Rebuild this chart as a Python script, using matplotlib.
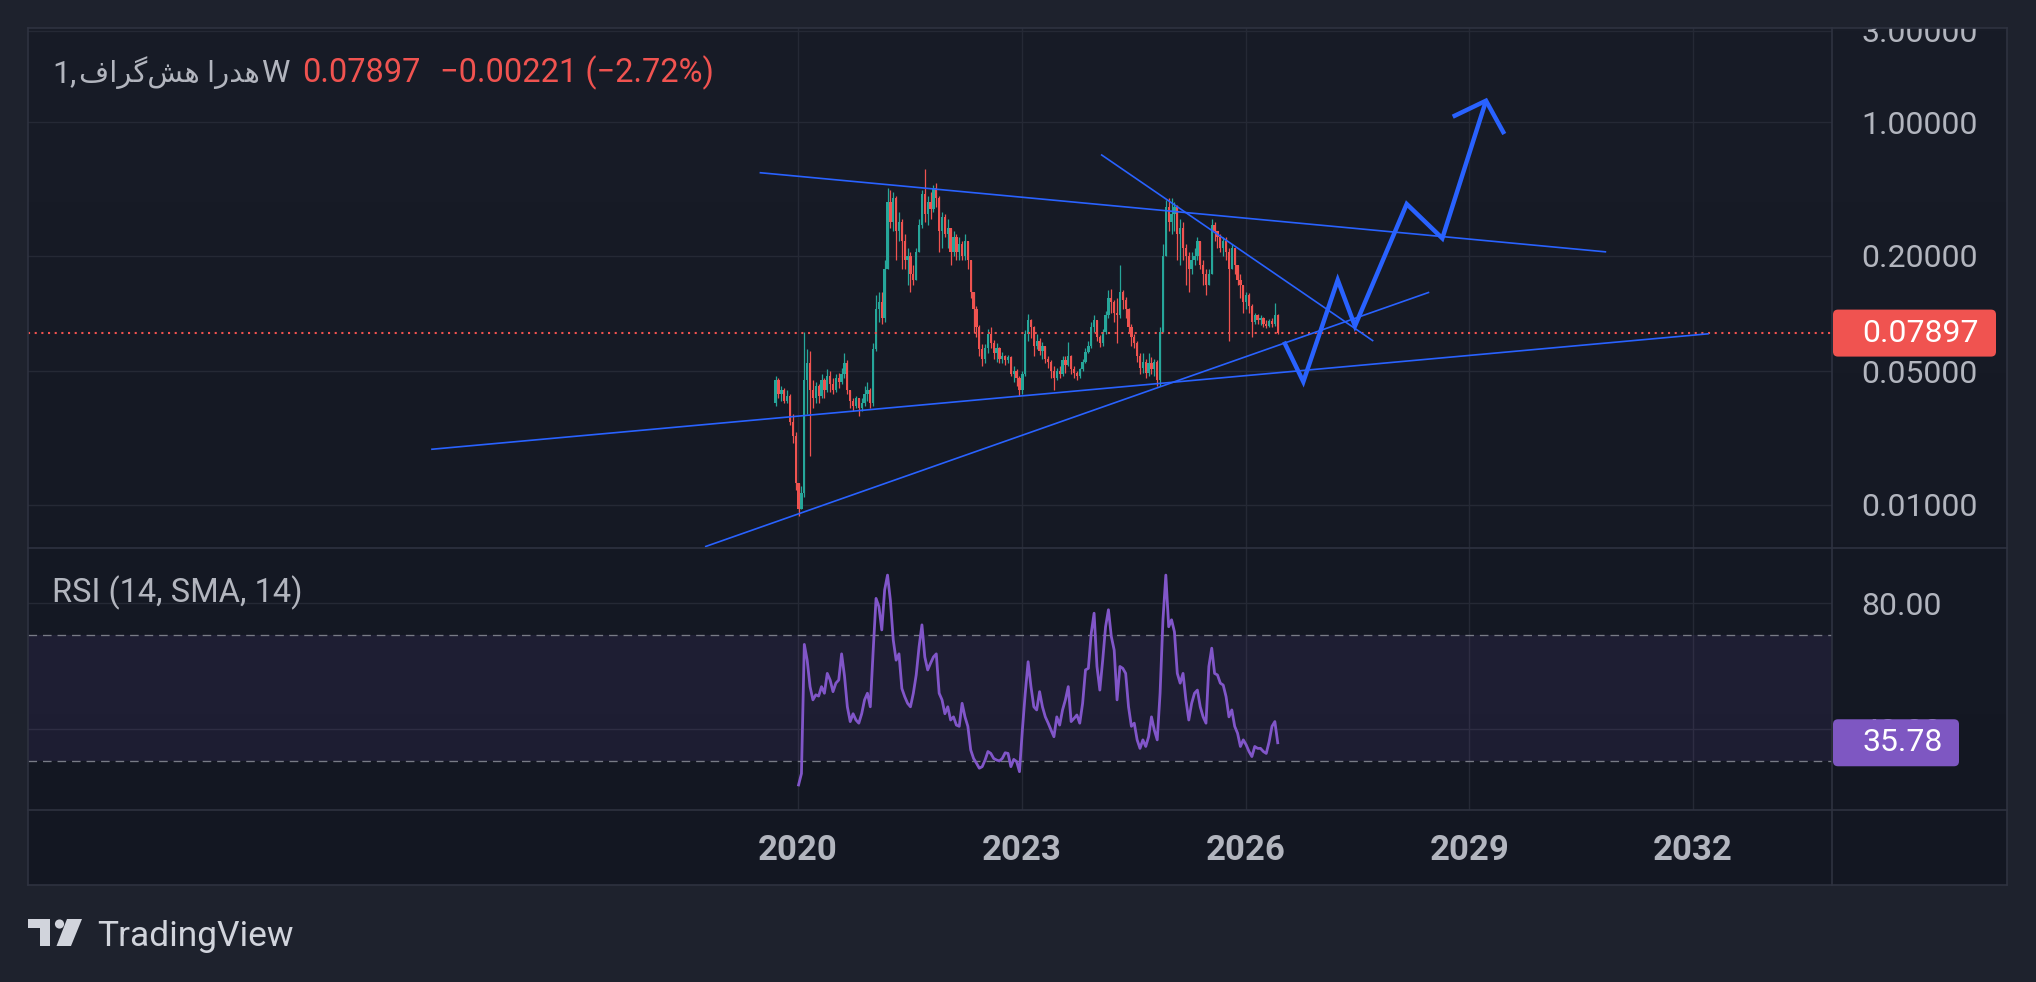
import numpy as np
import matplotlib
matplotlib.use("Agg")
import matplotlib.pyplot as plt
from matplotlib.patches import FancyBboxPatch, Rectangle, Circle, Polygon
from matplotlib.lines import Line2D
from matplotlib.colors import LinearSegmentedColormap
from matplotlib.ticker import NullLocator

# ---- data ----
start_year = 2019.70          # first bar
bar_step = 2 / 52             # two-week bars
first_open = 0.034

closes = [
    0.045, 0.038, 0.040, 0.035, 0.037, 0.027, 0.023, 0.013, 0.0095, 0.0115,
    0.045, 0.055, 0.040, 0.036, 0.042, 0.037, 0.045, 0.040, 0.047, 0.043,
    0.040, 0.046, 0.044, 0.048, 0.055, 0.040, 0.035, 0.033, 0.036, 0.032,
    0.034, 0.038, 0.040, 0.034, 0.065, 0.105, 0.115, 0.095, 0.170, 0.380,
    0.300, 0.400, 0.270, 0.300, 0.240, 0.190, 0.200, 0.160, 0.150, 0.210,
    0.290, 0.420, 0.330, 0.380, 0.350, 0.450, 0.400, 0.270, 0.320, 0.260,
    0.280, 0.210, 0.250, 0.210, 0.230, 0.200, 0.240, 0.190, 0.130, 0.105,
    0.085, 0.065, 0.058, 0.066, 0.078, 0.070, 0.062, 0.066, 0.058, 0.060,
    0.057, 0.059, 0.048, 0.050, 0.046, 0.040, 0.048, 0.078, 0.092, 0.085,
    0.068, 0.072, 0.064, 0.068, 0.058, 0.056, 0.050, 0.046, 0.050, 0.048,
    0.057, 0.054, 0.060, 0.051, 0.049, 0.047, 0.051, 0.056, 0.063, 0.068,
    0.085, 0.092, 0.075, 0.070, 0.080, 0.098, 0.120, 0.115, 0.100, 0.098,
    0.130, 0.118, 0.105, 0.085, 0.075, 0.070, 0.060, 0.052, 0.056, 0.049,
    0.055, 0.051, 0.056, 0.045, 0.080, 0.200, 0.360, 0.300, 0.330, 0.360,
    0.260, 0.280, 0.220, 0.200, 0.170, 0.190, 0.200, 0.240, 0.180, 0.160,
    0.140, 0.160, 0.290, 0.270, 0.250, 0.220, 0.240, 0.210, 0.170, 0.220,
    0.180, 0.150, 0.140, 0.115, 0.125, 0.110, 0.090, 0.098, 0.092, 0.095,
    0.088, 0.086, 0.091, 0.088, 0.098, 0.07897,
]
highs = [
    0.047, 0.046, 0.042, 0.041, 0.040, 0.038, 0.030, 0.024, 0.013, 0.0125,
    0.080, 0.065, 0.064, 0.045, 0.044, 0.043, 0.048, 0.046, 0.051, 0.050,
    0.046, 0.048, 0.049, 0.052, 0.062, 0.057, 0.040, 0.036, 0.037, 0.036,
    0.036, 0.042, 0.044, 0.041, 0.070, 0.125, 0.130, 0.130, 0.190, 0.450,
    0.440, 0.430, 0.410, 0.340, 0.310, 0.260, 0.220, 0.210, 0.180, 0.220,
    0.310, 0.440, 0.570, 0.410, 0.430, 0.470, 0.480, 0.410, 0.340, 0.330,
    0.310, 0.280, 0.270, 0.260, 0.250, 0.240, 0.260, 0.240, 0.190, 0.130,
    0.110, 0.087, 0.069, 0.069, 0.083, 0.085, 0.073, 0.070, 0.067, 0.063,
    0.061, 0.061, 0.060, 0.053, 0.051, 0.047, 0.050, 0.082, 0.099, 0.094,
    0.086, 0.078, 0.074, 0.071, 0.068, 0.060, 0.057, 0.053, 0.052, 0.053,
    0.060, 0.060, 0.071, 0.061, 0.053, 0.050, 0.052, 0.058, 0.066, 0.072,
    0.090, 0.098, 0.092, 0.077, 0.083, 0.103, 0.133, 0.135, 0.118, 0.120,
    0.180, 0.132, 0.122, 0.107, 0.088, 0.078, 0.072, 0.062, 0.062, 0.058,
    0.062, 0.059, 0.058, 0.057, 0.085, 0.230, 0.390, 0.400, 0.400, 0.380,
    0.370, 0.310, 0.300, 0.230, 0.210, 0.210, 0.220, 0.250, 0.240, 0.190,
    0.170, 0.170, 0.310, 0.300, 0.270, 0.260, 0.250, 0.250, 0.220, 0.230,
    0.220, 0.180, 0.160, 0.140, 0.130, 0.128, 0.112, 0.101, 0.099, 0.098,
    0.096, 0.092, 0.094, 0.095, 0.113, 0.099,
]
lows = [
    0.033, 0.036, 0.035, 0.034, 0.034, 0.026, 0.021, 0.012, 0.0088, 0.0095,
    0.011, 0.030, 0.018, 0.032, 0.034, 0.034, 0.036, 0.036, 0.039, 0.039,
    0.038, 0.039, 0.041, 0.043, 0.046, 0.038, 0.032, 0.031, 0.032, 0.029,
    0.031, 0.033, 0.035, 0.032, 0.033, 0.064, 0.090, 0.088, 0.090, 0.170,
    0.280, 0.270, 0.190, 0.240, 0.170, 0.170, 0.140, 0.130, 0.140, 0.150,
    0.210, 0.280, 0.300, 0.290, 0.310, 0.340, 0.360, 0.210, 0.220, 0.250,
    0.220, 0.180, 0.200, 0.190, 0.190, 0.190, 0.190, 0.170, 0.120, 0.079,
    0.075, 0.060, 0.053, 0.055, 0.062, 0.066, 0.058, 0.056, 0.055, 0.055,
    0.054, 0.055, 0.047, 0.044, 0.042, 0.037, 0.038, 0.047, 0.072, 0.074,
    0.060, 0.065, 0.061, 0.058, 0.055, 0.052, 0.046, 0.040, 0.045, 0.046,
    0.047, 0.049, 0.053, 0.048, 0.046, 0.045, 0.046, 0.050, 0.055, 0.062,
    0.066, 0.080, 0.072, 0.067, 0.068, 0.078, 0.095, 0.100, 0.090, 0.070,
    0.095, 0.105, 0.095, 0.080, 0.068, 0.066, 0.056, 0.048, 0.049, 0.046,
    0.047, 0.048, 0.047, 0.042, 0.042, 0.080, 0.200, 0.270, 0.260, 0.270,
    0.190, 0.180, 0.190, 0.140, 0.130, 0.160, 0.180, 0.190, 0.170, 0.140,
    0.125, 0.140, 0.160, 0.240, 0.220, 0.210, 0.200, 0.190, 0.072, 0.170,
    0.160, 0.140, 0.120, 0.100, 0.105, 0.100, 0.075, 0.088, 0.088, 0.087,
    0.085, 0.084, 0.085, 0.085, 0.086, 0.078,
]

rsi_first_bar = 8
rsi = [
    22.4, 26.0, 67.0, 62.0, 53.6, 49.4, 51.0, 50.6, 53.6, 51.5,
    57.8, 55.7, 52.0, 54.7, 55.7, 64.0, 57.0, 47.2, 42.5, 45.0,
    43.0, 42.0, 45.0, 49.4, 51.5, 47.2, 65.0, 81.6, 79.0, 71.6,
    84.3, 89.0, 81.0, 68.4, 62.0, 64.0, 53.0, 50.4, 48.3, 47.2,
    51.5, 57.3, 66.3, 73.2, 63.0, 58.9, 61.0, 63.0, 64.0, 51.5,
    49.4, 45.0, 47.2, 43.0, 44.0, 41.4, 41.0, 48.3, 44.0, 41.0,
    33.5, 30.8, 29.3, 27.7, 28.2, 30.3, 33.0, 32.4, 30.8, 30.3,
    30.0, 30.8, 32.6, 32.4, 28.2, 30.5, 29.8, 26.6, 39.8, 51.5,
    61.5, 53.6, 47.2, 46.2, 52.0, 47.2, 44.0, 42.0, 39.8, 37.7,
    44.0, 41.4, 46.2, 49.4, 53.6, 42.5, 43.5, 44.6, 42.0, 48.3,
    58.9, 59.4, 70.5, 76.9, 60.0, 52.5, 62.0, 72.6, 78.0, 69.5,
    65.2, 49.4, 60.0, 59.4, 57.8, 47.2, 41.0, 42.0, 36.7, 34.0,
    36.7, 34.6, 37.7, 44.0, 39.8, 36.7, 51.5, 74.8, 89.0, 72.6,
    74.8, 71.0, 57.8, 54.7, 57.8, 49.4, 43.0, 48.3, 51.5, 52.5,
    47.2, 44.0, 42.0, 60.0, 65.8, 57.8, 57.3, 54.7, 54.1, 50.4,
    44.0, 46.2, 41.0, 38.8, 34.6, 36.7, 35.1, 33.0, 31.4, 34.6,
    34.0, 34.0, 33.0, 32.4, 36.1, 41.0, 42.5, 35.78,
]

# drawn trend lines (year, price)
upper_x, upper_y = [2019.485, 2030.834], [0.544, 0.2097]
base_x, base_y = [2015.082, 2032.209], [0.01951, 0.07834]
steep_x, steep_y = [2018.753, 2028.462], [0.006045, 0.1291]
fall_x, fall_y = [2024.062, 2027.712], [0.6767, 0.07178]
path_x = [2026.515, 2026.774, 2027.235, 2027.466, 2028.160, 2028.637, 2029.223]
path_y = [0.0712, 0.0440, 0.1496, 0.0860, 0.3731, 0.2470, 1.2927]
head_x = [2028.777, 2029.223, 2029.468]
head_y = [1.0665, 1.2927, 0.866]

price_ticks = [3.0, 1.0, 0.2, 0.05, 0.01]
price_labels = ["3.00000", "1.00000", "0.20000", "0.05000", "0.01000"]
rsi_ticks = [80, 40]
rsi_labels = ["80.00", "40.00"]
year_ticks = [2020, 2023, 2026, 2029, 2032]

# ---- style ----
W, H = 2036, 982
OUTER = "#1e222d"
GRID = "#252935"
BORDER = "#2e3240"
TXT = "#b2b5be"
UP = "#26a69a"
DOWN = "#ef5350"
RED = "#f05350"
BLUE = "#2962ff"
PURPLE = "#7e57c2"

plt.rcParams["font.family"] = ["Roboto", "DejaVu Sans"]


def frac(x0, y0, x1, y1):
    """pixel box (top-left origin) -> figure fraction rect"""
    return [x0 / W, 1 - y1 / H, (x1 - x0) / W, (y1 - y0) / H]


def inch(x, y):
    """pixel (top-left origin) -> inches for dpi_scale_trans"""
    return (x / 100, (H - y) / 100)


fig = plt.figure(figsize=(W / 100, H / 100), dpi=100, facecolor=OUTER)

# gradient chart background
bg = fig.add_axes(frac(28, 28, 2007, 885), zorder=-5)
cmap = LinearSegmentedColormap.from_list("bg", ["#181c27", "#131722"])
bg.imshow(np.linspace(0, 1, 256).reshape(-1, 1), aspect="auto", cmap=cmap,
          extent=[0, 1, 0, 1])
bg.axis("off")

ax1 = fig.add_axes(frac(28, 28, 1832, 548))
ax2 = fig.add_axes(frac(28, 548, 1832, 810))
for ax in (ax1, ax2):
    ax.set_facecolor("none")
    for s in ax.spines.values():
        s.set_visible(False)
    ax.set_xlim(2009.678, 2033.861)
    ax.set_axisbelow(True)

# ---- price pane ----
ax1.set_yscale("log")
ax1.set_ylim(0.005953, 3.10)
ax1.yaxis.set_minor_locator(NullLocator())
ax1.set_yticks(price_ticks, price_labels)
ax1.set_xticks(year_ticks)
ax1.yaxis.tick_right()
ax1.tick_params(axis="y", length=0, pad=21, labelsize=23, labelcolor=TXT)
ax1.tick_params(axis="x", length=0, labelbottom=False)
ax1.grid(True, color=GRID, lw=1.0)

dates = start_year + np.arange(len(closes)) * bar_step
closes_a = np.array(closes)
opens_a = np.array([first_open] + closes[:-1])
colors = np.where(closes_a >= opens_a, UP, DOWN)
body_lo = np.minimum(opens_a, closes_a)
body_hi = np.maximum(opens_a, closes_a)
ax1.vlines(dates, lows, highs, colors=colors, lw=0.9, zorder=2)
ax1.bar(dates, body_hi - body_lo, bottom=body_lo, width=bar_step * 0.8,
        color=colors, linewidth=0, zorder=2)

last_price = closes[-1]
ax1.axhline(last_price, color=RED, lw=1.5, ls=(0, (1, 2.2)), zorder=3)

for xs, ys in [(upper_x, upper_y), (base_x, base_y), (steep_x, steep_y), (fall_x, fall_y)]:
    ax1.plot(xs, ys, color=BLUE, lw=1.2, zorder=4, solid_capstyle="butt")
ax1.plot(path_x, path_y, color=BLUE, lw=3.2, zorder=5,
         solid_joinstyle="miter", solid_capstyle="butt")
ax1.plot(head_x, head_y, color=BLUE, lw=3.2, zorder=5,
         solid_joinstyle="miter", solid_capstyle="butt")

# ---- RSI pane ----
ax2.set_ylim(14.44, 97.6)
ax2.set_yticks(rsi_ticks, rsi_labels)
ax2.set_xticks(year_ticks, [str(y) for y in year_ticks])
ax2.yaxis.tick_right()
ax2.tick_params(axis="y", length=0, pad=21, labelsize=23, labelcolor=TXT)
ax2.tick_params(axis="x", length=0, pad=17, labelsize=25, labelcolor=TXT)
for lab in ax2.get_xticklabels():
    lab.set_fontweight("bold")
ax2.grid(True, color=GRID, lw=1.0)
ax2.axhspan(30, 70, color=PURPLE, alpha=0.10, lw=0, zorder=1)
for lvl in (70, 30):
    ax2.axhline(lvl, color="#787b86", lw=0.95, ls=(0, (6.5, 4.5)), zorder=2)
rsi_dates = dates[rsi_first_bar:rsi_first_bar + len(rsi)]
ax2.plot(rsi_dates, rsi, color="#8156c9", lw=2.0, zorder=3)

# ---- frame lines ----
fig.add_artist(Rectangle((0, 1 - 28 / H), 1, 28 / H, transform=fig.transFigure,
                         facecolor=OUTER, edgecolor="none", zorder=6))
frame = [((28, 28), (2007, 28)), ((28, 885), (2007, 885)), ((28, 28), (28, 885)),
         ((2007, 28), (2007, 885)), ((1832, 28), (1832, 885)),
         ((28, 548), (2007, 548)), ((28, 810), (2007, 810))]
for (xa, ya), (xb, yb) in frame:
    fig.add_artist(Line2D([xa / W, xb / W], [1 - ya / H, 1 - yb / H],
                          transform=fig.transFigure, color=BORDER, lw=1.2, zorder=7))

# ---- price / rsi value boxes ----
fig.canvas.draw()
renderer = fig.canvas.get_renderer()
yp = ax1.transData.transform((2020, last_price))[1] / fig.dpi
yr = ax2.transData.transform((2020, rsi[-1]))[1] / fig.dpi
fig.add_artist(FancyBboxPatch((1833 / 100, yp - 0.235), 1.63, 0.47,
                              boxstyle="round,pad=0,rounding_size=0.05",
                              transform=fig.dpi_scale_trans, facecolor=RED,
                              edgecolor="none", zorder=8))
fig.text(1862 / W, yp * 100 / H, "0.07897", color="white", fontsize=23,
         va="center", ha="left", zorder=9)
fig.add_artist(FancyBboxPatch((1833 / 100, yr - 0.235), 1.26, 0.47,
                              boxstyle="round,pad=0,rounding_size=0.05",
                              transform=fig.dpi_scale_trans, facecolor=PURPLE,
                              edgecolor="none", zorder=8))
fig.text(1862 / W, yr * 100 / H, "%.2f" % rsi[-1], color="white", fontsize=23,
         va="center", ha="left", zorder=9)

# ---- legend texts ----
# Arabic name, pre-shaped and in visual order
name_vis = "\uFED1\uFE8D\uFEAE\uFB94\uFEB6\uFEEB \uFE8D\uFEAD\uFEAA\uFEEB"
legend_y = 1 - 82 / H
xpix = 52
for txt, size, gap in [("1,", 23, 3), (name_vis, 21, 1), ("W", 23, 0)]:
    t = fig.text(xpix / W, legend_y, txt, color=TXT, fontsize=size,
                 va="baseline", ha="left")
    xpix = t.get_window_extent(renderer).x1 + gap
fig.text(302 / W, legend_y, "0.07897", color=RED, fontsize=23.5,
         va="baseline", ha="left")
fig.text(440 / W, legend_y, "\u22120.00221 (\u22122.72%)", color=RED, fontsize=23.5,
         va="baseline", ha="left")

fig.text(52 / W, 1 - 602 / H, "RSI (14, SMA, 14)", color=TXT, fontsize=23.5,
         va="baseline", ha="left")

# ---- TradingView logo ----
LOGO = "#d1d4dc"
tv = fig.dpi_scale_trans
fig.add_artist(Polygon([inch(28, 919), inch(50, 919), inch(50, 946), inch(39.5, 946),
                        inch(39.5, 928), inch(28, 928)], closed=True,
                       transform=tv, facecolor=LOGO, edgecolor="none"))
fig.add_artist(Circle(inch(59.5, 924), 0.046, transform=tv, facecolor=LOGO,
                      edgecolor="none"))
fig.add_artist(Polygon([inch(67, 919), inch(82, 919), inch(71, 946), inch(56.5, 946)],
                       closed=True, transform=tv, facecolor=LOGO, edgecolor="none"))
fig.text(97 / W, 1 - 946 / H, "TradingView", color=LOGO, fontsize=25.5,
         va="baseline", ha="left")

fig.savefig("out.png", dpi=100, facecolor=OUTER)
